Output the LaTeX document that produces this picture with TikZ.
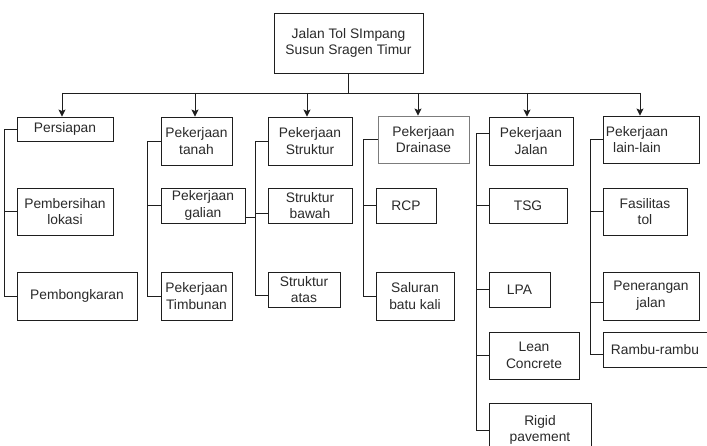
\documentclass[tikz,border=0pt]{standalone}
\usepackage{fontspec}
\setmainfont{Liberation Sans}
\usetikzlibrary{arrows.meta,positioning}
\definecolor{ink}{HTML}{1E1E1E}
\definecolor{txt}{HTML}{2A2A2A}
\definecolor{soft}{HTML}{7C7C7C}

\begin{document}
\begin{tikzpicture}[x=1pt,y=-1pt,>={Stealth[length=7pt,width=7pt,inset=1.5pt]},
box/.style={draw=ink,line width=0.9pt,fill=white,align=center,inner sep=1pt,text=txt,font=\fontsize{13.8}{16.8}\selectfont},
link/.style={draw=ink,line width=0.9pt},
arr/.style={->,draw=ink,line width=0.9pt}]
\useasboundingbox (0,0) rectangle (707,446);
\node[box,minimum width=149pt,minimum height=60pt] (root) at (348.5,43) {Jalan Tol SImpang\\Susun Sragen Timur};
\node[box,minimum width=96pt,minimum height=24pt] (persiapan) at (65,129) {Persiapan};
\node[box,minimum width=96pt,minimum height=47pt] (pembersihan) at (65,211.5) {Pembersihan\\lokasi};
\node[box,minimum width=120pt,minimum height=48pt] (pembongkaran) at (77,296) {Pembongkaran};
\node[box,minimum width=71pt,minimum height=48pt] (tanah) at (196.5,141) {Pekerjaan\\tanah};
\node[box,minimum width=84pt,minimum height=35pt] (galian) at (203,205.5) {Pekerjaan\\galian};
\node[box,minimum width=71pt,minimum height=48pt] (timbunan) at (196.5,296) {Pekerjaan\\Timbunan};
\node[box,minimum width=84pt,minimum height=48pt] (struktur) at (310,141) {Pekerjaan\\Struktur};
\node[box,minimum width=84pt,minimum height=35pt] (bawah) at (310,205.5) {Struktur\\bawah};
\node[box,minimum width=72pt,minimum height=35pt] (atas) at (304,289.5) {Struktur\\atas};
\node[box,draw=soft,minimum width=91pt,minimum height=47pt] (drainase) at (423.5,139.5) {Pekerjaan\\Drainase};
\node[box,minimum width=60pt,minimum height=35pt] (rcp) at (406,205.5) {RCP};
\node[box,minimum width=78pt,minimum height=48pt] (saluran) at (415,296) {Saluran\\batu kali};
\node[box,minimum width=84pt,minimum height=48pt] (jalan) at (531,141) {Pekerjaan\\Jalan};
\node[box,minimum width=78pt,minimum height=35pt] (tsg) at (528,205.5) {TSG};
\node[box,minimum width=61pt,minimum height=35pt] (lpa) at (519.5,289.5) {LPA};
\node[box,minimum width=90pt,minimum height=47pt] (lean) at (534,355.5) {Lean\\Concrete};
\node[box,minimum width=102pt,minimum height=54pt] (rigid) at (540,430) {Rigid\\pavement};
\node[box,minimum width=96pt,minimum height=47pt,label={[align=center,text=txt,font=\fontsize{13.8}{16.8}\selectfont,xshift=-14pt]center:Pekerjaan\\lain-lain}] (lain) at (651,139.5) {};
\node[box,minimum width=84pt,minimum height=47pt] (fasilitas) at (645,211.5) {Fasilitas\\tol};
\node[box,minimum width=96pt,minimum height=48pt] (penerangan) at (651,296) {Penerangan\\jalan};
\node[box,minimum width=104pt,minimum height=35pt] (rambu) at (655,349.5) {Rambu-rambu};
\coordinate (b1) at (62,93);
\coordinate (b2) at (195,93);
\coordinate (b3) at (307,93);
\coordinate (b4) at (418,93);
\coordinate (b5) at (527,93);
\coordinate (b6) at (640,93);
\draw[link] (root.south) -- (root.south |- b1);
\draw[link] (b1) -- (b6);
\draw[arr] (b1) -- (b1 |- persiapan.north);
\draw[arr] (b2) -- (b2 |- tanah.north);
\draw[arr] (b3) -- (b3 |- struktur.north);
\draw[arr] (b4) -- (b4 |- drainase.north);
\draw[arr] (b5) -- (b5 |- jalan.north);
\draw[arr] (b6) -- (b6 |- lain.north);
\draw[link] (persiapan.west) -- ++(-12,0) |- (pembongkaran.west);
\draw[link] (pembersihan.west) -- ++(-12,0);
\draw[link] (tanah.west) -- ++(-13,0) |- (timbunan.west);
\draw[link] (galian.west) -- ++(-13,0);
\draw[link] ([yshift=-12pt]galian.east) -- ++(11,0);
\draw[link] (struktur.west) -- ++(-12,0) |- ([yshift=-5.5pt]atas.west);
\draw[link] ([yshift=-8pt]bawah.west) -- ++(-12,0);
\draw[link] (drainase.west) -- ++(-14,0) |- (saluran.west);
\draw[link] (rcp.west) -- ++(-12,0);
\draw[link] ([yshift=8pt]jalan.west) -- ++(-12,0) |- (rigid.west);
\draw[link] (tsg.west) -- ++(-12,0);
\draw[link] (lpa.west) -- ++(-12,0);
\draw[link] (lean.west) -- ++(-12,0);
\draw[link] (lain.west) -- ++(-12,0) |- ([yshift=-4.5pt]rambu.west);
\draw[link] (fasilitas.west) -- ++(-12,0);
\draw[link] ([yshift=-6pt]penerangan.west) -- ++(-12,0);
\end{tikzpicture}
\end{document}
